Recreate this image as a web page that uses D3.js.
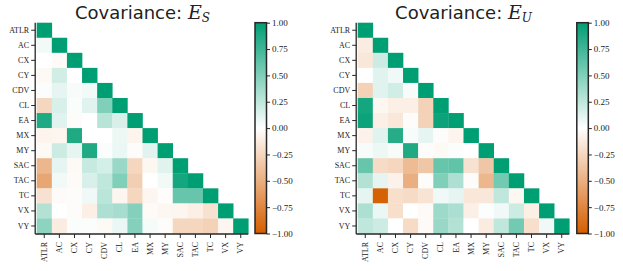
<!DOCTYPE html>
<html>
<head>
<meta charset="utf-8">
<script src="https://cdn.jsdelivr.net/npm/d3@7"></script>
<style>
  body { margin: 0; background: #fff; }
  .axis path, .axis line { stroke: #262626; }
</style>
</head>
<body>
<svg id="chart" width="623" height="271"></svg>
<script>
const labels = ["ATLR", "AC", "CX", "CY", "CDV", "CL", "EA", "MX", "MY", "SAC", "TAC", "TC", "VX", "VY"];

// lower triangle, row by row (diagonal included)
const esValues = [
  [1],
  [0.05, 1],
  [0.0, -0.03, 1],
  [-0.04, 0.18, 0.0, 1],
  [0.02, 0.1, 0.03, 0.05, 1],
  [-0.25, 0.15, 0.02, 0.12, 0.5, 1],
  [0.88, 0.12, -0.02, 0.0, 0.28, 0.15, 1],
  [-0.07, -0.06, 0.88, 0.0, 0.0, 0.07, -0.07, 1],
  [-0.04, 0.2, 0.1, 0.88, 0.02, 0.08, -0.02, 0.12, 1],
  [-0.45, 0.1, -0.04, 0.22, 0.17, 0.4, -0.25, -0.05, 0.12, 1],
  [-0.55, 0.05, -0.03, 0.15, 0.25, 0.5, -0.3, 0.0, 0.05, 0.92, 1],
  [-0.18, -0.03, -0.02, 0.06, 0.27, -0.06, -0.25, -0.06, -0.01, 0.6, 0.6, 1],
  [0.3, 0.0, -0.02, -0.1, 0.32, 0.35, 0.48, -0.03, -0.05, -0.06, -0.1, -0.18, 1],
  [0.45, -0.12, 0.02, 0.02, -0.04, 0.08, 0.48, 0.04, -0.02, -0.25, -0.25, -0.28, -0.06, 1]
];

const euValues = [
  [1],
  [-0.12, 1],
  [-0.15, 0.2, 1],
  [0.0, 0.12, 0.06, 1],
  [-0.28, 0.12, 0.18, 0.03, 1],
  [0.92, -0.05, -0.1, -0.1, -0.28, 1],
  [0.95, -0.1, -0.15, -0.02, -0.28, 0.95, 1],
  [-0.08, 0.12, 0.85, 0.03, 0.1, -0.02, -0.07, 1],
  [0.03, 0.07, 0.03, 0.88, -0.02, -0.04, 0.02, 0.0, 1],
  [0.6, -0.22, -0.25, -0.42, -0.35, 0.6, 0.62, -0.18, -0.35, 1],
  [0.3, 0.1, -0.08, -0.5, -0.02, 0.5, 0.32, -0.02, -0.45, 0.55, 1],
  [0.1, -0.98, -0.2, -0.22, -0.17, 0.06, 0.1, -0.15, -0.15, 0.25, -0.05, 1],
  [0.32, 0.08, -0.2, 0.0, -0.03, 0.38, 0.33, -0.1, 0.01, 0.06, 0.2, -0.1, 1],
  [0.25, 0.2, 0.0, -0.22, -0.03, 0.4, 0.3, 0.0, -0.12, 0.25, 0.55, -0.2, 0.06, 1]
];

const colorTicks = [1, 0.75, 0.5, 0.25, 0, -0.25, -0.5, -0.75, -1];

const svg = d3.select("#chart");
const serif = "'Liberation Serif', 'DejaVu Serif', serif";

const color = d3.scaleLinear()
    .domain([-1, 0, 1])
    .range(["#d55e00", "#ffffff", "#009e73"]);

// vertical gradient for the colorbars
const grad = svg.append("defs").append("linearGradient")
    .attr("id", "cbar")
    .attr("x1", 0).attr("y1", 1).attr("x2", 0).attr("y2", 0);
d3.range(-1, 1.001, 0.25).forEach((v) => {
  grad.append("stop")
      .attr("offset", (v + 1) / 2)
      .attr("stop-color", color(v));
});

const plotTop = 22.7;
const plotBottom = 233.5;

const drawPanel = (values, x0, x1, cbX, sub) => {
  const x = d3.scaleBand().domain(labels).range([x0, x1]);
  const y = d3.scaleBand().domain(labels).range([plotTop, plotBottom]);

  const cells = [];
  values.forEach((row, i) => {
    row.forEach((v, j) => cells.push({ r: labels[i], c: labels[j], v: v }));
  });

  svg.append("g").selectAll("rect")
      .data(cells)
    .enter().append("rect")
      .attr("x", (d) => x(d.c))
      .attr("y", (d) => y(d.r))
      .attr("width", x.bandwidth() + 0.3)
      .attr("height", y.bandwidth() + 0.3)
      .style("fill", (d) => color(d.v));

  svg.append("g")
      .attr("class", "axis")
      .attr("transform", `translate(${x0 - 1.5},0)`)
      .call(d3.axisLeft(y).tickSize(4).tickSizeOuter(0).tickPadding(2))
      .call((g) => g.select(".domain").attr("stroke-width", 1.3).attr("d", `M0,${plotTop}V${plotBottom + 0.5}`))
      .call((g) => g.selectAll(".tick text")
          .style("font-family", serif)
          .style("font-size", "8px")
          .style("fill", "#222"));

  svg.append("g")
      .attr("class", "axis")
      .attr("transform", `translate(0,${plotBottom + 0.5})`)
      .call(d3.axisBottom(x).tickSize(4).tickSizeOuter(0).tickPadding(2))
      .call((g) => g.select(".domain").attr("stroke-width", 1.3).attr("d", `M${x0 - 1.5},0H${x1}`))
      .call((g) => g.selectAll(".tick text")
          .style("font-family", serif)
          .style("font-size", "8px")
          .style("fill", "#222")
          .attr("text-anchor", "end")
          .attr("dy", "0.32em")
          .attr("transform", "translate(0,8) rotate(-90)")
          .attr("x", 0).attr("y", 0));

  // title
  const title = svg.append("text")
      .attr("x", (x0 + x1) / 2)
      .attr("y", 18.5)
      .attr("text-anchor", "middle")
      .style("font-family", "DejaVu Sans, sans-serif")
      .style("font-size", "18px")
      .style("fill", "#222");
  title.append("tspan").text("Covariance:  ");
  title.append("tspan")
      .style("font-family", "DejaVu Serif, serif")
      .style("font-style", "italic")
      .style("font-size", "19px")
      .text("E");
  title.append("tspan")
      .attr("dy", 3)
      .style("font-family", "DejaVu Serif, serif")
      .style("font-style", "italic")
      .style("font-size", "12px")
      .text(sub);

  // colorbar
  const cbW = 11.5;
  svg.append("rect")
      .attr("x", cbX)
      .attr("y", plotTop)
      .attr("width", cbW)
      .attr("height", plotBottom - plotTop)
      .style("fill", "url(#cbar)")
      .style("stroke", "#262626")
      .style("stroke-width", 1.5);

  const cy = d3.scaleLinear().domain([-1, 1]).range([plotBottom, plotTop]);
  svg.append("g")
      .attr("class", "axis")
      .attr("transform", `translate(${cbX + cbW},0)`)
      .call(d3.axisRight(cy).tickValues(colorTicks).tickFormat(d3.format(".2f")).tickSize(3.5).tickPadding(2))
      .call((g) => g.select(".domain").remove())
      .call((g) => g.selectAll(".tick text")
          .style("font-family", serif)
          .style("font-size", "9px")
          .style("fill", "#222"));
};

drawPanel(esValues, 36.7, 248.3, 255, "S");
drawPanel(euValues, 357.7, 569.3, 576.8, "U");
</script>
</body>
</html>
